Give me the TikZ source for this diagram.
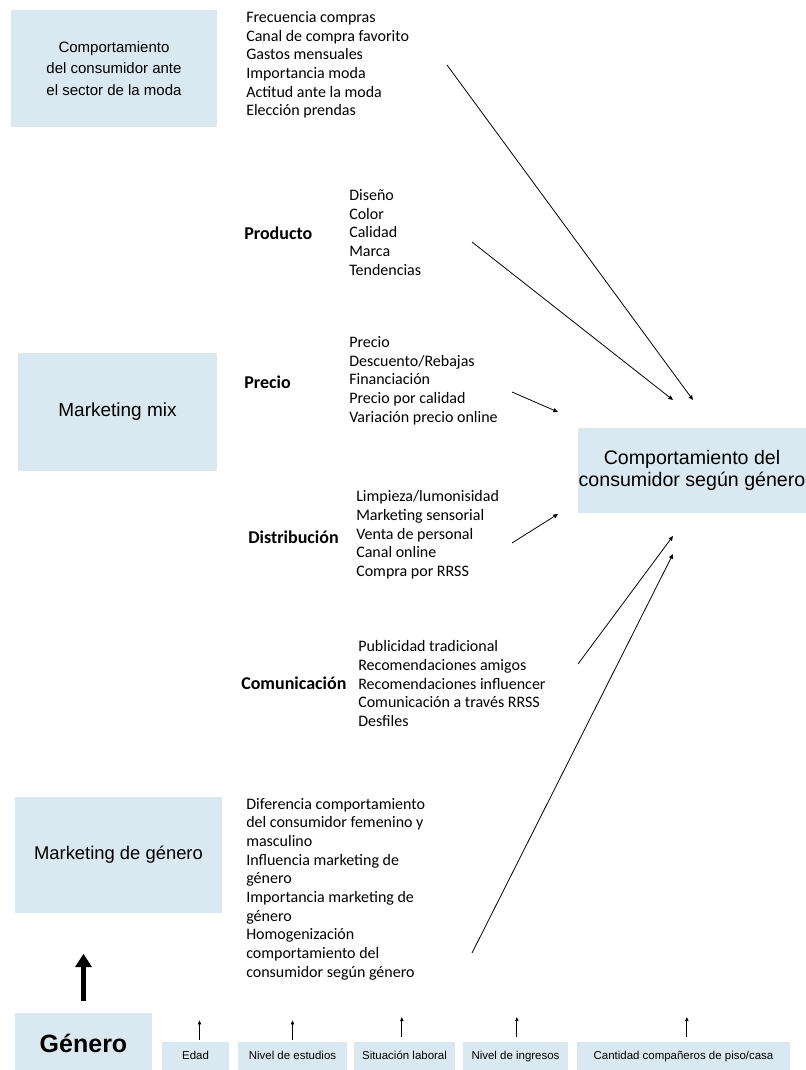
\documentclass[tikz,border=0pt]{standalone}
\usepackage{fontspec}
\setmainfont{Carlito}
\newfontfamily\arialfont{Liberation Sans}
\usetikzlibrary{arrows.meta}
\definecolor{boxblue}{HTML}{DAE8F1}

\begin{document}
\begin{tikzpicture}[x=0.75pt,y=-0.75pt,
    box/.style={fill=boxblue, inner sep=0pt, align=center},
    item/.style={anchor=west, inner sep=0pt, align=left, font=\fontsize{12}{14}\selectfont},
    head/.style={anchor=west, inner sep=0pt, font=\fontsize{13.5}{16}\selectfont\bfseries},
    tag/.style={fill=boxblue, inner sep=0pt, minimum height=21pt, text height=6.5pt, text depth=2pt, font=\arialfont\fontsize{8.6}{10}\selectfont},
    link/.style={line width=0.6pt, -{Triangle[length=3.5pt,width=3pt]}},
    tick/.style={line width=0.6pt, -{Triangle[length=3pt,width=2.5pt]}}]
    \useasboundingbox (0,0) rectangle (806,1070);

    % Left column boxes
    \node[box, minimum width=154.5pt, minimum height=87.75pt, font=\arialfont\fontsize{11.25}{16}\selectfont] (moda) at (114,68.5) {Comportamiento\\del consumidor ante\\el sector de la moda};
    \node[box, minimum width=149.25pt, minimum height=88.5pt, font=\arialfont\fontsize{14.25}{17}\selectfont] (mix) at (117.5,412) {Marketing mix};
    \node[box, minimum width=155.25pt, minimum height=87pt, font=\arialfont\fontsize{13.8}{17}\selectfont] (mgen) at (118.5,855) {Marketing de género};

    % Target
    \node[box, minimum width=171pt, minimum height=63.75pt, font=\arialfont\fontsize{14.7}{16.5}\selectfont] (target) at (692,470.5) {Comportamiento del\\consumidor según género};

    % Variables
    \node[item] (lmoda) at (246,65) {Frecuencia compras\\Canal de compra favorito\\Gastos mensuales\\Importancia moda\\Actitud ante la moda\\Elección prendas};

    \node[head] (prod) at (244,233) {Producto};
    \node[item] (lprod) at (349,232.5) {Diseño\\Color\\Calidad\\Marca\\Tendencias};

    \node[head] (prec) at (244,382) {Precio};
    \node[item] (lprec) at (349,380.5) {Precio\\Descuento/Rebajas\\Financiación\\Precio por calidad\\Variación precio online};

    \node[head] (dist) at (248,537) {Distribución};
    \node[item] (ldist) at (356,535) {Limpieza/lumonisidad\\Marketing sensorial\\Venta de personal\\Canal online\\Compra por RRSS};

    \node[head] (comu) at (241,683) {Comunicación};
    \node[item] (lcomu) at (358,683.5) {Publicidad tradicional\\Recomendaciones amigos\\Recomendaciones influencer\\Comunicación a través RRSS\\Desfiles};

    \node[item] (lgen) at (246,889) {Diferencia comportamiento\\del consumidor femenino y\\masculino\\Influencia marketing de\\género\\Importancia marketing de\\género\\Homogenización\\comportamiento del\\consumidor según género};

    % Bottom row
    \node[box, minimum width=102.75pt, minimum height=45pt, font=\arialfont\bfseries\fontsize{18.75}{22}\selectfont] (genero) at (83.5,1043) {Género};
    \node[tag, minimum width=50.25pt] (edad) at (195.5,1056) {Edad};
    \node[tag, minimum width=81.75pt] (estudios) at (292.5,1056) {Nivel de estudios};
    \node[tag, minimum width=75.75pt] (laboral) at (404.5,1056) {Situación laboral};
    \node[tag, minimum width=78.75pt] (ingresos) at (515.5,1056) {Nivel de ingresos};
    \node[tag, minimum width=159.75pt] (piso) at (683.5,1056) {Cantidad compañeros de piso/casa};

    % Connectors
    \coordinate (modaS) at (447,65);  \coordinate (modaE) at (693,400);
    \coordinate (prodS) at (472,242); \coordinate (prodE) at (673,400);
    \coordinate (precS) at (512,392); \coordinate (precE) at (558,412);
    \coordinate (distS) at (512,543); \coordinate (distE) at (558,514);
    \coordinate (comuS) at (578,664); \coordinate (comuE) at (673,536);
    \coordinate (genS) at (472,953);  \coordinate (genE) at (673,554);

    \draw[link] (modaS) -- (modaE);
    \draw[link] (prodS) -- (prodE);
    \draw[link] (precS) -- (precE);
    \draw[link] (distS) -- (distE);
    \draw[link] (comuS) -- (comuE);
    \draw[link] (genS) -- (genE);

    % Big arrow from Genero
    \draw[line width=3.5pt, -{Triangle[length=10pt,width=12pt]}] ([yshift=9pt]genero.north) -- ++(0,-47);

    % Small arrows
    \draw[tick] ([xshift=3pt,yshift=1pt]edad.north) -- ++(0,-20);
    \draw[tick] ([yshift=1pt]estudios.north) -- ++(0,-20);
    \draw[tick] ([xshift=-2pt,yshift=3.5pt]laboral.north) -- ++(0,-20);
    \draw[tick] ([xshift=1pt,yshift=3.5pt]ingresos.north) -- ++(0,-20);
    \draw[tick] ([xshift=2.5pt,yshift=3.5pt]piso.north) -- ++(0,-20);
\end{tikzpicture}
\end{document}
